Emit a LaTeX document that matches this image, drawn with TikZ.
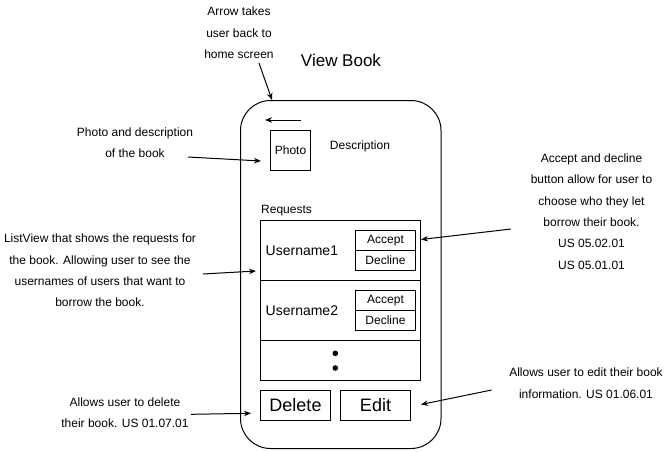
\documentclass[tikz,border=0pt]{standalone}
\usepackage{fontspec}
\setmainfont{Liberation Sans}
\usetikzlibrary{arrows.meta}
\begin{document}
\begin{tikzpicture}[x=1pt,y=-1pt,
  note/.style={font=\fontsize{12}{21.4}\selectfont, align=center, inner sep=0pt},
  lbl/.style={font=\fontsize{12}{14}\selectfont, inner sep=0pt},
  box/.style={draw, line width=1pt, inner sep=0pt},
  arr/.style={-{Stealth[length=7pt,width=5.5pt]}, line width=1pt}]
\useasboundingbox (0,0) rectangle (671,451);
% phone outline
\node[draw, line width=1pt, rounded corners=30pt, minimum width=200.5, minimum height=348, inner sep=0pt] (phone) at (340.75,274.5) {};
\node[font=\fontsize{17}{20}\selectfont, inner sep=0pt] (title) at (341,60) {View Book};
% back arrow
\coordinate (backA) at (301,120);
\coordinate (backB) at (265,120);
\draw[arr] (backA) -- (backB);
% photo and description
\node[box, lbl, minimum size=40] (photo) at (290.5,150.5) {Photo};
\node[lbl] (desc) at (360,146) {Description};
% requests list
\node[lbl, anchor=west] (reqlbl) at (261,211) {Requests};
\node[box, minimum width=160, minimum height=60] (row1) at (340.5,250.5) {};
\node[box, minimum width=160, minimum height=60] (row2) at (340.5,310.5) {};
\node[box, minimum width=160, minimum height=40] (row3) at (340.5,360.5) {};
\node[font=\fontsize{14}{16}\selectfont, anchor=west, inner sep=0pt] (user1) at (265.5,251) {Username1};
\node[font=\fontsize{14}{16}\selectfont, anchor=west, inner sep=0pt] (user2) at (265.5,311) {Username2};
\node[box, lbl, minimum width=60, minimum height=20] (acc1) at (385.5,240.5) {Accept};
\node[box, lbl, minimum width=60, minimum height=20] (dec1) at (385.5,260.5) {Decline};
\node[box, lbl, minimum width=60, minimum height=20] (acc2) at (385.5,300.5) {Accept};
\node[box, lbl, minimum width=60, minimum height=20] (dec2) at (385.5,320.5) {Decline};
\fill (335.3,353.3) circle (2.8);
\fill (335.3,368) circle (2.8);
% buttons
\node[box, font=\fontsize{18}{20}\selectfont, minimum width=70, minimum height=30] (del) at (295.5,405.5) {Delete};
\node[box, font=\fontsize{18}{20}\selectfont, minimum width=70, minimum height=30] (edit) at (375.5,405.5) {Edit};
% annotations
\node[note] (nback) at (239,33) {Arrow takes\\user back to\\home screen};
\node[note] (nphoto) at (135,142.5) {Photo and description\\of the book};
\node[note] (nlist) at (100,270.5) {ListView that shows the requests for\\the book. Allowing user to see the\\usernames of users that want to\\borrow the book.};
\node[note] (nacc) at (591.5,211.5) {Accept and decline\\button allow for user to\\choose who they let\\borrow their book.\\US 05.02.01\\US 05.01.01};
\node[note] (ndel) at (125,412.5) {Allows user to delete\\their book. US 01.07.01};
\node[note] (nedit) at (586,383) {Allows user to edit their book\\information. US 01.06.01};
% connectors
\coordinate (c1s) at (259,63);
\coordinate (c1e) at (272,100);
\draw[arr] (c1s) -- (c1e);
\coordinate (c2s) at (188,157);
\coordinate (c2e) at (261,161);
\draw[arr] (c2s) -- (c2e);
\coordinate (c3s) at (203,274);
\coordinate (c3e) at (256,271);
\draw[arr] (c3s) -- (c3e);
\coordinate (c4s) at (511,229);
\coordinate (c4e) at (421,239.5);
\draw[arr] (c4s) -- (c4e);
\coordinate (c5s) at (191,414.3);
\coordinate (c5e) at (251,413.3);
\draw[arr] (c5s) -- (c5e);
\coordinate (c6s) at (491.6,390);
\coordinate (c6e) at (421,404.5);
\draw[arr] (c6s) -- (c6e);
\end{tikzpicture}
\end{document}
